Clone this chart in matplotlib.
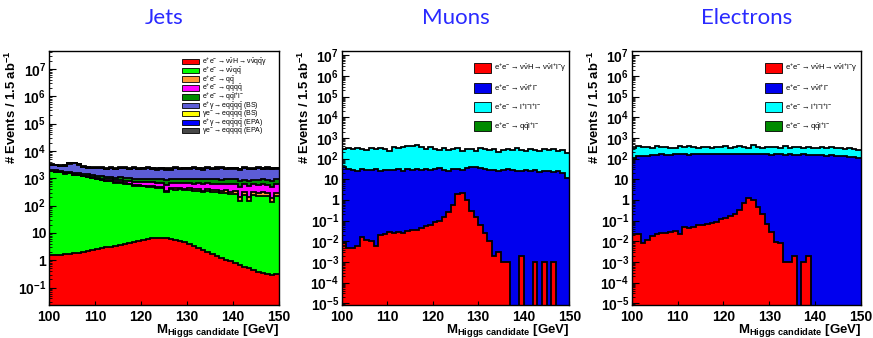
import numpy as np
import matplotlib
matplotlib.use("Agg")
import matplotlib.pyplot as plt
from matplotlib.patches import Patch
from matplotlib.ticker import LogLocator, NullFormatter, FuncFormatter

plt.rcParams['font.family'] = ['Liberation Sans', 'DejaVu Sans']
plt.rcParams['mathtext.fontset'] = 'custom'
plt.rcParams['mathtext.rm'] = 'Liberation Sans'
plt.rcParams['mathtext.it'] = 'Liberation Sans'
plt.rcParams['mathtext.bf'] = 'Liberation Sans:bold'
plt.rcParams['mathtext.default'] = 'regular'

# 1 GeV bins, 100-150 GeV
edges = np.arange(100, 151)

# ---- Jets channel (events per bin) ----
jets_sig = [1.6, 1.5, 1.6, 1.7, 1.7, 1.8, 1.9, 2.0, 2.2, 2.4,
            2.6, 2.8, 3.0, 3.1, 3.3, 3.5, 3.8, 4.2, 4.7, 5.2,
            5.6, 6.0, 6.3, 6.5, 6.6, 6.4, 6.1, 5.7, 5.2, 4.6,
            4.0, 3.4, 2.9, 2.4, 2.0, 1.7, 1.45, 1.25, 1.05, 0.9,
            0.78, 0.68, 0.58, 0.5, 0.43, 0.38, 0.34, 0.31, 0.29, 0.31]
jets_vvqq = [1850, 1720, 1640, 1480, 1500, 1330, 1310, 1180, 1120, 980,
             920, 860, 790, 770, 690, 670, 610, 600, 530, 520,
             500, 470, 470, 430, 440, 300, 410, 380, 390, 360,
             365, 340, 350, 300, 330, 305, 300, 280, 290, 265,
             265, 140, 240, 150, 240, 225, 230, 215, 130, 215]
jets_qq = [8, 10, 9, 12, 10, 12, 14, 15, 14, 18,
           20, 18, 22, 25, 24, 28, 30, 26, 32, 35,
           34, 38, 40, 36, 42, 45, 40, 48, 45, 50,
           52, 48, 55, 50, 58, 55, 60, 52, 65, 58,
           62, 60, 66, 58, 70, 65, 72, 68, 60, 75]
jets_qqqq = [15, 18, 16, 20, 25, 30, 38, 45, 55, 65,
             75, 85, 95, 110, 115, 130, 135, 150, 155, 170,
             175, 185, 190, 200, 205, 210, 220, 225, 230, 235,
             240, 245, 240, 250, 260, 255, 265, 270, 260, 275,
             280, 270, 285, 290, 280, 295, 290, 300, 290, 300]
jets_qqll = [150, 170, 160, 180, 175, 190, 200, 185, 205, 210,
             215, 210, 225, 230, 220, 240, 245, 230, 250, 245,
             255, 250, 265, 255, 270, 265, 280, 270, 285, 280,
             290, 285, 280, 295, 290, 300, 295, 290, 305, 300,
             295, 305, 300, 310, 305, 300, 315, 310, 305, 310]
jets_eg_bs = [950, 1050, 880, 1150, 1700, 1900, 1600, 1100, 1000, 1020,
              1100, 1150, 1000, 1180, 1050, 1200, 1250, 1120, 1300, 1150,
              1250, 1350, 1200, 1150, 1300, 1250, 1100, 1350, 1200, 1280,
              1300, 1400, 1250, 1180, 1350, 1250, 1300, 1450, 1200, 1300,
              1350, 1250, 1400, 1300, 1250, 1450, 1300, 1350, 1400, 1300]
jets_ge_bs = [60, 50, 70, 55, 65, 60, 50, 75, 60, 55,
              65, 50, 60, 70, 55, 65, 60, 50, 70, 60,
              55, 65, 60, 75, 50, 60, 70, 55, 65, 60,
              50, 70, 60, 55, 65, 60, 75, 50, 60, 70,
              55, 65, 60, 50, 70, 60, 55, 65, 60, 70]
jets_eg_epa = [30, 25, 35, 28, 30, 32, 25, 30, 35, 28,
               30, 25, 32, 30, 28, 35, 30, 25, 30, 32,
               28, 30, 35, 25, 30, 32, 28, 30, 25, 35,
               30, 28, 32, 30, 25, 30, 35, 28, 30, 32,
               25, 30, 28, 35, 30, 25, 32, 30, 28, 30]
jets_ge_epa = [120, 100, 140, 110, 130, 120, 100, 150, 110, 120,
               130, 100, 120, 140, 110, 130, 120, 100, 140, 120,
               110, 130, 120, 150, 100, 120, 140, 110, 130, 120,
               100, 140, 120, 110, 130, 120, 150, 100, 120, 140,
               110, 130, 120, 100, 140, 120, 110, 130, 120, 140]

# ---- Muon channel ----
mu_sig = [0.008, 0.005, 0.005, 0.006, 0.017, 0.011, 0.010, 0.006, 0.020, 0.022,
          0.027, 0.024, 0.028, 0.025, 0.032, 0.036, 0.034, 0.045, 0.055, 0.065,
          0.085, 0.10, 0.15, 0.25, 0.6, 2.0, 2.1, 1.0, 0.3, 0.15,
          0.06, 0.025, 0.010, 0.002, 0.003, 0.001, 0.001, 0, 0, 0.002,
          0, 0, 0.001, 0, 0.001, 0, 0.001, 0, 0, 0]
mu_vvll = [38, 30, 28, 26, 32, 29, 27, 31, 25, 28,
           29, 27, 30, 26, 31, 29, 33, 28, 30, 27,
           30, 34, 29, 26, 32, 28, 27, 36, 40, 38,
           35, 30, 27, 29, 25, 27, 30, 28, 26, 24,
           28, 25, 27, 23, 26, 24, 22, 25, 20, 12]
mu_llll = [252, 300, 252, 284, 268, 231, 303, 249, 295, 272,
           211, 323, 300, 354, 369, 391, 417, 352, 270, 323,
           250, 226, 301, 224, 248, 282, 203, 264, 240, 202,
           285, 250, 233, 271, 195, 243, 260, 222, 284, 236,
           212, 265, 243, 207, 254, 226, 278, 215, 240, 168]

# ---- Electron channel ----
el_sig = [0.022, 0.022, 0.008, 0.012, 0.018, 0.022, 0.024, 0.026, 0.027, 0.030,
          0.022, 0.048, 0.045, 0.050, 0.065, 0.060, 0.070, 0.075, 0.09, 0.12,
          0.14, 0.16, 0.22, 0.32, 0.75, 1.3, 1.0, 0.45, 0.2, 0.07,
          0.027, 0.009, 0.008, 0.001, 0.001, 0.002, 0, 0.001, 0.002, 0,
          0, 0, 0, 0, 0, 0, 0, 0, 0, 0]
el_vvll = [110, 130, 140, 135, 150, 145, 160, 155, 150, 165,
           160, 170, 155, 165, 160, 175, 165, 170, 160, 165,
           170, 165, 160, 170, 175, 165, 160, 165, 170, 160,
           155, 165, 160, 150, 160, 155, 150, 160, 155, 150,
           145, 150, 140, 145, 135, 140, 130, 125, 120, 105]
el_llll = [220, 290, 240, 225, 170, 265, 190, 225, 180, 175,
           260, 190, 235, 185, 180, 205, 195, 160, 190, 205,
           230, 175, 190, 220, 185, 164, 279, 195, 170, 210,
           195, 215, 170, 250, 180, 205, 200, 170, 215, 190,
           175, 200, 190, 215, 175, 200, 170, 195, 160, 145]

jets_labels = [r'$e^{+}e^{-}\rightarrow\nu\bar{\nu}H\rightarrow\nu\bar{\nu}q\bar{q}\gamma$',
               r'$e^{+}e^{-}\rightarrow\nu\bar{\nu}q\bar{q}$',
               r'$e^{+}e^{-}\rightarrow q\bar{q}$',
               r'$e^{+}e^{-}\rightarrow q\bar{q}q\bar{q}$',
               r'$e^{+}e^{-}\rightarrow q\bar{q}l^{+}l^{-}$',
               r'$e^{+}\gamma\rightarrow eq\bar{q}q\bar{q}$ (BS)',
               r'$\gamma e^{-}\rightarrow eq\bar{q}q\bar{q}$ (BS)',
               r'$e^{+}\gamma\rightarrow eq\bar{q}q\bar{q}$ (EPA)',
               r'$\gamma e^{-}\rightarrow eq\bar{q}q\bar{q}$ (EPA)']
jets_colors = ['#ff0000', '#00ff00', '#ff9933', '#ff00ff', '#008a00',
               '#5c5cd6', '#ffff00', '#0000ff', '#474747']

lep_labels = [r'$e^{+}e^{-}\rightarrow\nu\bar{\nu}H\rightarrow\nu\bar{\nu}l^{+}l^{-}\gamma$',
              r'$e^{+}e^{-}\rightarrow\nu\bar{\nu}l^{+}l^{-}$',
              r'$e^{+}e^{-}\rightarrow l^{+}l^{-}l^{+}l^{-}$',
              r'$e^{+}e^{-}\rightarrow q\bar{q}l^{+}l^{-}$']
lep_colors = ['#ff0000', '#0000ee', '#00ffff', '#008a00']


def log_label(v, pos):
    n = int(round(np.log10(v)))
    if n == 0:
        return '1'
    if n == 1:
        return '10'
    return r'$\mathbf{10^{%d}}$' % n


def draw_stack(ax, layers, colors):
    floor = 1e-12
    lower = np.full(len(edges) - 1, floor)
    tops = []
    for vals, c in zip(layers, colors):
        upper = lower + np.asarray(vals, dtype=float)
        lo = np.append(lower, lower[-1])
        hi = np.append(upper, upper[-1])
        ax.fill_between(edges, lo, np.maximum(hi, floor), step='post',
                        color=c, lw=0, zorder=1)
        tops.append(np.maximum(upper, floor))
        lower = upper
    for top in tops:
        ax.stairs(top, edges, color='black', lw=1.3, zorder=2, baseline=None)


def style_axes(ax, ylim, decades):
    ax.set_yscale('log')
    ax.set_xlim(100, 150)
    ax.set_ylim(*ylim)
    ax.set_xticks([100, 110, 120, 130, 140, 150])
    ax.set_yticks([10.0 ** d for d in decades])
    ax.yaxis.set_minor_locator(LogLocator(base=10, subs=np.arange(2, 10), numticks=30))
    ax.yaxis.set_minor_formatter(NullFormatter())
    ax.yaxis.set_major_formatter(FuncFormatter(log_label))
    ax.tick_params(axis='y', which='major', direction='in', length=5, width=0.8,
                   labelsize=10, pad=2, right=False)
    ax.tick_params(axis='y', which='minor', direction='in', length=2.5, width=0.6, right=False)
    ax.tick_params(axis='x', which='major', direction='in', length=3, width=0.8,
                   labelsize=10, pad=3.5, top=False)
    ax.tick_params(axis='x', which='minor', length=0)
    for lab in ax.get_xticklabels() + ax.get_yticklabels():
        lab.set_fontweight('bold')
    for s in ax.spines.values():
        s.set_linewidth(1.0)
        s.set_zorder(5)
    ax.set_axisbelow(False)
    ax.set_ylabel(r'$\mathbf{\#\ Events\ /\ 1.5\ ab^{-1}}$', fontsize=9.4, loc='top')
    ax.yaxis.set_label_coords(-0.13, 1.0)
    ax.set_xlabel(r'$\mathbf{M_{Higgs\ candidate}}$ [GeV]', fontsize=9.5,
                  fontweight='bold', loc='right')
    ax.xaxis.set_label_coords(1.0, -0.067)


fig = plt.figure(figsize=(8.73, 3.38), dpi=100)
ax_j = fig.add_axes([0.0561, 0.0976, 0.2635, 0.7515])
ax_m = fig.add_axes([0.3914, 0.0976, 0.2607, 0.7515])
ax_e = fig.add_axes([0.7236, 0.0976, 0.2627, 0.7515])

jets_layers = [jets_sig, jets_vvqq, jets_qq, jets_qqqq, jets_qqll,
               jets_eg_bs, jets_ge_bs, jets_eg_epa, jets_ge_epa]
draw_stack(ax_j, jets_layers, jets_colors)
style_axes(ax_j, (0.023, 4.5e7), range(-1, 8))
hj = [Patch(facecolor=c, edgecolor='black', lw=0.6) for c in jets_colors]
ax_j.legend(hj, jets_labels, loc='upper left', bbox_to_anchor=(0.56, 0.998),
            fontsize=5, frameon=False, handlelength=2.4, handleheight=0.85,
            labelspacing=-0.5, handletextpad=0.5, borderaxespad=0.2)

for ax, layers in [(ax_m, [mu_sig, mu_vvll, mu_llll]),
                   (ax_e, [el_sig, el_vvll, el_llll])]:
    draw_stack(ax, layers, lep_colors[:3])
    style_axes(ax, (8.3e-6, 1.6e7), range(-5, 8))
    hl = [Patch(facecolor=c, edgecolor='black', lw=0.6) for c in lep_colors]
    ax.legend(hl, lep_labels, loc='upper left', bbox_to_anchor=(0.56, 0.975),
              fontsize=5.5, frameon=False, handlelength=2.3, handleheight=1.7,
              labelspacing=1.05, handletextpad=0.4, borderaxespad=0.2)

for ax, name in [(ax_j, 'Jets'), (ax_m, 'Muons'), (ax_e, 'Electrons')]:
    box = ax.get_position()
    fig.text((box.x0 + box.x1) / 2, 0.948, name, color='#2a2aff', fontsize=16,
             family=['Lato', 'DejaVu Sans'], ha='center', va='center')

fig.savefig('out.png', dpi=100)
